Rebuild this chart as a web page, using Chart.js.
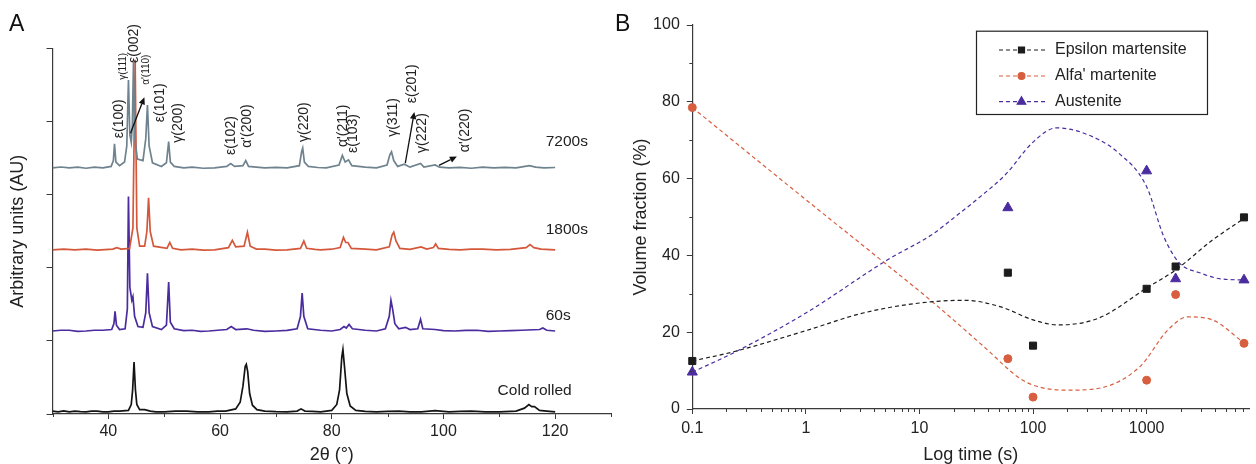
<!DOCTYPE html>
<html><head><meta charset="utf-8">
<script src="https://cdn.jsdelivr.net/npm/chart.js@4.4.1/dist/chart.umd.min.js"></script>
<style>
html,body{margin:0;padding:0;background:#fff;}
#wrap{position:relative;width:1256px;height:464px;overflow:hidden;background:#fff;}
#ca{position:absolute;left:0;top:0;}
#cb{position:absolute;left:600px;top:0;}
.lbl{position:absolute;font-family:"Liberation Sans",Arial,sans-serif;font-size:23px;line-height:23px;color:#111;}
</style></head><body>
<div id="wrap">
<canvas id="ca" width="620" height="464"></canvas>
<canvas id="cb" width="656" height="464"></canvas>
<div class="lbl" style="left:9px;top:12px">A</div>
<div class="lbl" style="left:615px;top:12px">B</div>
</div>
<script>
// ---------------- Panel A data (2θ, relative intensity) ----------------
const specNames = ['7200s', '1800s', '60s', 'Cold rolled'];
const specOffsets = [3.365, 2.245, 1.135, 0.03];
const specColors = ['#6f838f', '#d4573a', '#4a2c9e', '#141414'];

const spec7200 = [[30,0.0],[31.5,0.012],[33,0.0],[34.5,0.01],[36,-0.005],[37.5,0.01],[39,0.0],[40.5,0.02],[40.9,0.1],[41.1,0.33],[41.35,0.08],[42,0.03],[42.9,0.08],[43.3,0.3],[43.6,1.2],[43.85,0.45],[44.1,0.35],[44.3,0.6],[44.5,1.45],[44.75,0.4],[45.2,0.12],[46.2,0.1],[46.7,0.4],[47.0,0.86],[47.3,0.3],[47.9,0.07],[49.5,0.02],[50.4,0.07],[50.8,0.36],[51.1,0.08],[51.8,0.02],[53.5,0.0],[55,0.01],[57,-0.005],[59,0.0],[61.2,0.02],[61.9,0.06],[62.6,0.02],[64.1,0.03],[64.6,0.1],[65.1,0.02],[66.5,0.01],[68,0.0],[70,0.008],[72,0.0],[74.2,0.03],[74.6,0.22],[74.8,0.27],[75.1,0.08],[75.8,0.02],[77.5,0.005],[79,0.0],[81.3,0.04],[81.9,0.17],[82.4,0.08],[83.0,0.11],[83.6,0.03],[86,0.01],[88,0.0],[89.9,0.04],[90.4,0.18],[90.7,0.22],[91.1,0.1],[91.8,0.02],[93.0,0.05],[94,0.01],[95.9,0.06],[96.5,0.01],[98.5,0.04],[99.3,0.01],[101,0.0],[103,0.008],[105,-0.005],[107,0.01],[109,0.0],[111,0.006],[113,0.0],[115.4,0.03],[116.5,0.01],[118,0.0],[120,0.005]];
const spec1800 = [[30,0.0],[32,0.01],[34,0.0],[36,0.01],[38,-0.005],[40.8,0.01],[41.5,0.03],[42.3,0.01],[43.8,0.02],[44.4,0.3],[44.8,2.6],[45.1,0.3],[45.6,0.05],[46.5,0.05],[46.9,0.25],[47.2,0.71],[47.5,0.25],[48.1,0.05],[50.5,0.02],[51.0,0.1],[51.5,0.02],[53,0.0],[55,0.01],[57,-0.005],[59,0.0],[61.5,0.03],[62.2,0.13],[62.8,0.04],[64.3,0.05],[64.9,0.24],[65.4,0.05],[66.5,0.01],[68,0.01],[70,-0.005],[72,0.0],[74.4,0.02],[75.0,0.12],[75.5,0.02],[77,0.005],[78,0.0],[80,0.008],[81.5,0.03],[82.1,0.17],[82.5,0.1],[82.9,0.1],[83.5,0.02],[86,0.01],[88,0.0],[90.3,0.04],[90.8,0.2],[91.1,0.24],[91.5,0.12],[92.2,0.02],[94,0.005],[96.0,0.04],[97,0.01],[98.2,0.03],[98.6,0.08],[99.1,0.02],[101,0.005],[103,0.0],[105,0.008],[107,0.01],[109.5,0.0],[112,0.006],[114.8,0.03],[115.5,0.07],[116.2,0.03],[117.5,0.01],[120,0.0]];
const spec60 = [[30,0.0],[31.5,0.01],[33,0.01],[34.5,-0.005],[36,0.0],[37.5,0.01],[39,0.01],[40.6,0.02],[41.0,0.1],[41.2,0.27],[41.45,0.08],[42,0.02],[43.0,0.03],[43.4,0.3],[43.6,1.84],[43.85,0.6],[44.2,0.42],[44.4,0.47],[44.7,0.2],[45.3,0.06],[46.2,0.05],[46.7,0.25],[47.0,0.79],[47.3,0.25],[47.9,0.06],[49.5,0.02],[50.4,0.08],[50.8,0.67],[51.1,0.12],[51.8,0.03],[53.5,0.005],[55,0.01],[56.5,-0.005],[58,0.0],[61.2,0.02],[62.0,0.06],[62.8,0.02],[64.8,0.03],[66,0.01],[68,-0.005],[70,0.0],[72,0.008],[73.8,0.03],[74.4,0.2],[74.7,0.52],[75.0,0.2],[75.7,0.03],[78,0.01],[80,0.0],[81.5,0.02],[82.2,0.06],[82.6,0.04],[83.1,0.09],[83.7,0.03],[86,0.01],[88,0.0],[89.6,0.03],[90.3,0.2],[90.6,0.42],[90.9,0.3],[91.3,0.1],[92,0.03],[93.2,0.05],[94,0.02],[95.4,0.03],[95.9,0.16],[96.3,0.03],[98.5,0.02],[100,0.005],[102,0.0],[104,0.008],[106,0.01],[108,-0.005],[110,0.0],[112,0.006],[114,0.01],[117.2,0.02],[117.8,0.04],[118.5,0.01],[120,0.0]];
const specCold = [[30,0.01],[31,0.0],[32,0.012],[33,0.0],[34,0.01],[35,0.002],[36,0.0],[37,0.01],[38,0.008],[39,0.0],[40,0.0],[41,0.008],[42,0.01],[43.6,0.02],[44.1,0.1],[44.35,0.3],[44.6,0.68],[44.85,0.3],[45.1,0.1],[45.6,0.03],[46.5,0.03],[47.5,0.01],[48.5,0.0],[50,0.0],[52,0.008],[54,0.01],[56,0.0],[58,0.0],[59.5,0.008],[61,0.01],[62.8,0.04],[63.6,0.13],[64.1,0.35],[64.5,0.62],[64.7,0.65],[64.95,0.55],[65.3,0.25],[65.8,0.09],[66.6,0.03],[68,0.01],[70,0.002],[72,0.0],[73.8,0.01],[74.5,0.04],[75.2,0.01],[76.5,0.005],[78,0.0],[80,0.02],[80.9,0.1],[81.4,0.3],[81.8,0.75],[82.0,0.85],[82.3,0.6],[82.7,0.25],[83.3,0.08],[84.3,0.02],[86,0.005],[88,0.0],[90,0.006],[92,0.01],[94,0.0],[96,0.0],[98.5,0.015],[101,0.0],[103,0.006],[105,0.01],[107.5,0.0],[110,0.0],[113,0.01],[114.5,0.05],[115.3,0.1],[115.8,0.07],[116.3,0.07],[117.2,0.02],[118.5,0.01],[120,0.0]];
const spectra = [spec7200, spec1800, spec60, specCold];

const xTicksA = [40, 60, 80, 100, 120];
const xMinorA = [30, 50, 70, 90, 110, 130];

// peak annotations: text, 2θ, height (axis units) of the text's lower end
const annotText = ['ε(100)','γ(111)','ε(002)',"α'(110)",'ε(101)','γ(200)','ε(102)',"α'(200)",'γ(220)',"α'(211)",'ε(103)','γ(311)','ε(201)','γ(222)',"α'(220)"];
const annotX = [41.85,42.75,44.7,46.85,49.3,52.5,62.0,64.9,75.1,82.1,83.9,90.95,94.45,96.25,103.8];
const annotY = [3.77,4.57,4.80,4.50,3.99,3.71,3.54,3.64,3.72,3.65,3.57,3.79,4.25,3.57,3.58];
const annotSmall = [false,true,false,true,false,false,false,false,false,false,false,false,false,false,false];
const specLabelX = [118.3, 118.3, 118.3, 109.7];
const specLabelY = [3.72, 2.52, 1.34, 0.32];
const arrowFrom = [[43.96,3.84],[93.17,3.43],[99.2,3.40]];
const arrowTo   = [[46.45,4.33],[94.78,4.13],[102.4,3.52]];

// ---------------- Panel B data ----------------
const times = [0.1, 60, 100, 1000, 1800, 7200];
const epsilon = [12.5, 35.5, 16.5, 31.3, 37.1, 49.9];
const alfa = [78.5, 13.1, 3.1, 7.5, 29.8, 17.1];
const austTimes = [0.1, 60, 1000, 1800, 7200];
const austenite = [9.6, 52.4, 62.0, 33.9, 33.6];

const epsFitT = [0.1,0.23,1,3.2,10,25,52,100,166,380,1000,1800,3800,7200];
const epsFitV = [12.5,14.9,20.4,25,27.6,28.3,26.6,23.2,21.9,23.7,31.5,36.2,44,49.6];
const alfaFitT = [0.1,1,5,13,38,73,100,196,380,870,1540,2300,3800,7200];
const alfaFitV = [78.5,54.5,37.9,27.9,15.9,8.4,6.2,4.9,5.4,11,20.6,24,23.2,17.2];
const austFitT = [0.1,0.23,1,5.2,13,19.5,35,57,100,160,270,570,1000,1420,1950,2980,4450,7200];
const austFitV = [9.6,14.6,25,38.8,45.5,49.5,55.5,61,69.5,73.2,72,66.6,57.9,44.8,38,35.4,33.9,33.6];

const seriesNames = ['Epsilon martensite', "Alfa' martenite", 'Austenite'];
const seriesColors = ['#1c1c1c', '#d75e3f', '#4b2d9f'];
const seriesMarkers = ['rect', 'circle', 'triangle'];
const seriesRadius = [5, 4, 5.8];

const xMajorB = [0.1, 1, 10, 100, 1000];
const xLabelsB = ['0.1', '1', '10', '100', '1000'];
const yMajorB = [0, 20, 40, 60, 80, 100];

const FONT = '"Liberation Sans", Arial, Helvetica, sans-serif';
const AXC = '#3a3a3a';
const TXT = '#222';

function pairs(xs, ys) { return xs.map((x, i) => ({x: x, y: ys[i]})); }

// ---------------- Panel A chart ----------------
const annotA = {
  id: 'annotA',
  afterDraw(chart) {
    const {ctx, scales: {x, y}, chartArea} = chart;
    ctx.save();
    ctx.strokeStyle = AXC; ctx.lineWidth = 1;
    xMinorA.forEach(v => {
      const px = Math.round(x.getPixelForValue(v)) + 0.5;
      ctx.beginPath(); ctx.moveTo(px, chartArea.bottom); ctx.lineTo(px, chartArea.bottom + 3); ctx.stroke();
    });
    ctx.fillStyle = TXT;
    annotText.forEach((t, i) => {
      const px = x.getPixelForValue(annotX[i]);
      const py = y.getPixelForValue(annotY[i]);
      ctx.save();
      ctx.translate(px, py);
      ctx.rotate(-Math.PI / 2);
      ctx.font = (annotSmall[i] ? '10px ' : '14px ') + FONT;
      ctx.textAlign = 'left'; ctx.textBaseline = 'middle';
      ctx.fillText(t, 0, 0);
      ctx.restore();
    });
    ctx.font = '15.5px ' + FONT;
    ctx.textAlign = 'left'; ctx.textBaseline = 'middle';
    specNames.forEach((n, i) => {
      ctx.fillText(n, x.getPixelForValue(specLabelX[i]), y.getPixelForValue(specLabelY[i]));
    });
    ctx.strokeStyle = '#111'; ctx.fillStyle = '#111'; ctx.lineWidth = 1.3;
    arrowFrom.forEach((f, i) => {
      const x0 = x.getPixelForValue(f[0]), y0 = y.getPixelForValue(f[1]);
      const x1 = x.getPixelForValue(arrowTo[i][0]), y1 = y.getPixelForValue(arrowTo[i][1]);
      const a = Math.atan2(y1 - y0, x1 - x0);
      const L = 7, W = 3.2;
      const bx = x1 - L * Math.cos(a), by = y1 - L * Math.sin(a);
      ctx.beginPath(); ctx.moveTo(x0, y0); ctx.lineTo(bx, by); ctx.stroke();
      ctx.beginPath();
      ctx.moveTo(x1, y1);
      ctx.lineTo(bx + W * Math.sin(a), by - W * Math.cos(a));
      ctx.lineTo(bx - W * Math.sin(a), by + W * Math.cos(a));
      ctx.closePath(); ctx.fill();
    });
    ctx.restore();
  }
};

new Chart(document.getElementById('ca'), {
  type: 'scatter',
  data: {
    datasets: spectra.map((s, i) => ({
      label: specNames[i],
      data: s.map(p => ({x: p[0], y: p[1] + specOffsets[i]})),
      showLine: true, pointRadius: 0, borderColor: specColors[i], borderWidth: 1.7,
      tension: 0, fill: false
    }))
  },
  options: {
    responsive: false, animation: false, devicePixelRatio: 1,
    layout: {padding: {top: 48.3, right: 9, left: 0, bottom: 0}},
    plugins: {legend: {display: false}, tooltip: {enabled: false}},
    scales: {
      x: {
        type: 'linear', min: 30, max: 130,
        ticks: {stepSize: 10, autoSkip: false, maxRotation: 0, padding: 3, color: TXT,
                font: {family: FONT, size: 16},
                callback: v => xTicksA.includes(v) ? String(v) : ''},
        grid: {drawOnChartArea: false, tickLength: 5, tickWidth: 1,
               tickColor: c => (c.tick && xTicksA.includes(c.tick.value)) ? AXC : 'rgba(0,0,0,0)'},
        border: {color: AXC, width: 1.2},
        title: {display: true, text: '2θ (°)', color: TXT, font: {family: FONT, size: 18, lineHeight: 1}, padding: 0},
        afterFit: s => { s.height = 50; }
      },
      y: {
        min: 0, max: 5,
        ticks: {stepSize: 1, padding: 0, callback: () => ''},
        grid: {drawOnChartArea: false, tickLength: 6, tickColor: AXC, tickWidth: 1},
        border: {color: AXC, width: 1.2},
        title: {display: true, text: 'Arbitrary units (AU)', color: TXT, font: {family: FONT, size: 18, lineHeight: 1.2}, padding: {top: 7.2, bottom: 0}},
        afterFit: s => { s.width = 52.5; }
      }
    }
  },
  plugins: [annotA]
});

// ---------------- Panel B chart ----------------
const minorMult = [2, 3, 4, 5, 6, 7, 8, 9];
const xMinorB = [];
xMajorB.forEach(d => minorMult.forEach(m => { const v = d * m; if (v < 8000) xMinorB.push(v); }));
const yMinorB = [10, 30, 50, 70, 90];

const annotB = {
  id: 'annotB',
  afterDraw(chart) {
    const {ctx, scales: {x, y}, chartArea} = chart;
    ctx.save();
    ctx.strokeStyle = AXC; ctx.lineWidth = 1;
    xMinorB.forEach(v => {
      const px = Math.round(x.getPixelForValue(v)) + 0.5;
      ctx.beginPath(); ctx.moveTo(px, chartArea.bottom); ctx.lineTo(px, chartArea.bottom + 3); ctx.stroke();
    });
    yMinorB.forEach(v => {
      const py = Math.round(y.getPixelForValue(v)) + 0.5;
      ctx.beginPath(); ctx.moveTo(chartArea.left - 3, py); ctx.lineTo(chartArea.left, py); ctx.stroke();
    });
    const bx = 376, by = 30.7, bw = 231, bh = 83.3;
    ctx.strokeStyle = '#222'; ctx.lineWidth = 1.2;
    ctx.strokeRect(bx + 0.5, by + 0.5, bw, bh);
    const rows = [50, 76, 101.7];
    seriesNames.forEach((n, i) => {
      const ry = rows[i];
      ctx.save();
      ctx.strokeStyle = seriesColors[i]; ctx.lineWidth = 1.2; ctx.setLineDash([4, 3]);
      ctx.beginPath(); ctx.moveTo(bx + 23, ry); ctx.lineTo(bx + 70, ry); ctx.stroke();
      ctx.restore();
      ctx.fillStyle = seriesColors[i]; ctx.strokeStyle = seriesColors[i];
      Chart.helpers.drawPoint(ctx, {pointStyle: seriesMarkers[i], radius: seriesRadius[i] * 0.85, rotation: 0, borderWidth: 1}, bx + 45.5, ry);
      ctx.fillStyle = TXT;
      ctx.font = '16px ' + FONT; ctx.textAlign = 'left'; ctx.textBaseline = 'middle';
      ctx.fillText(n, bx + 79, ry);
    });
    ctx.restore();
  }
};

const fitSets = [[epsFitT, epsFitV], [alfaFitT, alfaFitV], [austFitT, austFitV]];
const pointSets = [[times, epsilon], [times, alfa], [austTimes, austenite]];
const dsB = [];
fitSets.forEach((f, i) => dsB.push({
  label: seriesNames[i] + ' fit', data: pairs(f[0], f[1]), showLine: true, pointRadius: 0,
  borderColor: seriesColors[i], borderWidth: 1.2, borderDash: [4, 3], cubicInterpolationMode: 'monotone', fill: false
}));
pointSets.forEach((p, i) => dsB.push({
  label: seriesNames[i], data: pairs(p[0], p[1]), showLine: false,
  pointStyle: seriesMarkers[i], pointRadius: seriesRadius[i], pointBackgroundColor: seriesColors[i],
  pointBorderColor: seriesColors[i], pointBorderWidth: 1, clip: false
}));

new Chart(document.getElementById('cb'), {
  type: 'scatter',
  data: {datasets: dsB},
  options: {
    responsive: false, animation: false, devicePixelRatio: 1,
    layout: {padding: {top: 25, right: 0, left: 0, bottom: 0}},
    plugins: {legend: {display: false}, tooltip: {enabled: false}},
    scales: {
      x: {
        type: 'logarithmic', min: 0.1, max: 8000,
        afterBuildTicks: s => { s.ticks = xMajorB.concat(xMinorB).sort((a, b) => a - b).map(v => ({value: v})); },
        ticks: {autoSkip: false, maxRotation: 0, padding: 5.3, color: TXT, font: {family: FONT, size: 16},
                callback: v => { const k = xMajorB.indexOf(v); return k >= 0 ? xLabelsB[k] : ''; }},
        grid: {drawOnChartArea: false, tickLength: 5, tickWidth: 1,
               tickColor: c => (c.tick && xMajorB.includes(c.tick.value)) ? AXC : 'rgba(0,0,0,0)'},
        border: {color: AXC, width: 1.2},
        title: {display: true, text: 'Log time (s)', color: TXT, font: {family: FONT, size: 18, lineHeight: 1}, padding: 0},
        afterFit: s => { s.height = 55; }
      },
      y: {
        min: 0, max: 100,
        ticks: {stepSize: 10, autoSkip: false, padding: 7, color: TXT, font: {family: FONT, size: 16},
                callback: v => yMajorB.includes(v) ? String(v) : ''},
        grid: {drawOnChartArea: false, tickLength: 5.5, tickWidth: 1,
               tickColor: c => (c.tick && yMajorB.includes(c.tick.value)) ? AXC : 'rgba(0,0,0,0)'},
        border: {color: AXC, width: 1.2},
        title: {display: true, text: 'Volume fraction (%)', color: TXT, font: {family: FONT, size: 18, lineHeight: 1.2}, padding: {top: 30.2, bottom: 0}},
        afterFit: s => { s.width = 92.3; }
      }
    }
  },
  plugins: [annotB]
});
</script>
</body></html>
